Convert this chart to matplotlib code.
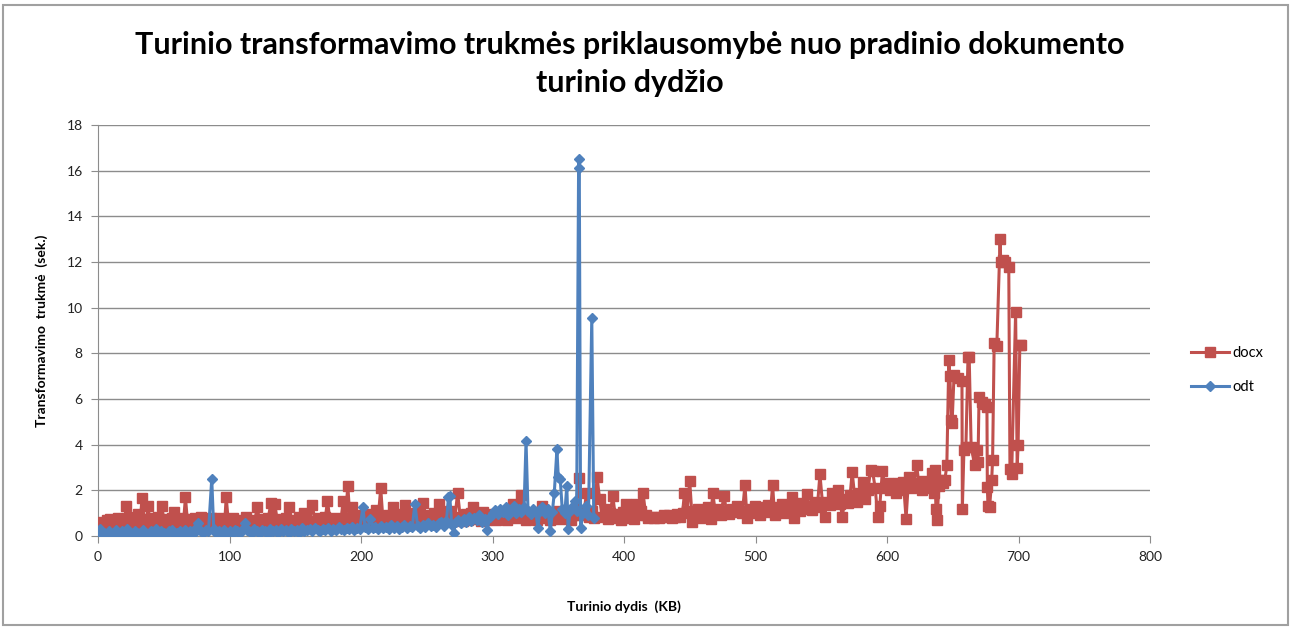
import matplotlib
matplotlib.use('AGG')
import matplotlib.pyplot as plt
from matplotlib.patches import Rectangle

plt.rcParams['font.family'] = ['Lato', 'DejaVu Sans']

# docx series: content size (KB) and transformation time (s)
docx_kb = [
    0.5, 2, 3.5, 5, 6.5, 8, 9.5, 11, 12.5, 14,
    15.5, 17, 18.5, 20, 21.5, 23, 24.5, 26, 27.5, 29,
    30.5, 32, 33.5, 35, 36.5, 38, 39.5, 41, 42.5, 44,
    45.5, 47, 48.5, 50, 51.5, 53, 54.5, 56, 57.5, 59,
    60.5, 62, 63.5, 65, 66.5, 68, 69.5, 71, 72.5, 74,
    75.5, 77, 78.5, 80, 81.5, 83, 84.5, 86, 87.5, 89,
    90.5, 92, 93.5, 95, 96.5, 97.5, 99,
    101, 103, 105.5, 108, 110, 112.5, 115, 117, 119, 121,
    123, 125, 127.5, 129.5, 131.5, 133, 134.5, 136.5, 138.5, 140.5,
    143, 145, 147, 149, 151, 153, 155, 156.5, 158.5, 160.5,
    163, 165, 167, 169, 171, 173, 174.5, 176.5, 178.5, 180.5,
    182.5, 184.5, 186.5, 188, 190, 191.5, 193.5, 195.5, 197.5, 199.5,
    201.5, 203.5, 205.5, 207.5, 209.5, 211.5, 213, 215, 216.5, 218.5,
    220.5, 222.5, 224, 226, 228, 230, 232, 233.5, 235.5, 237.5,
    239.5, 241.5, 243.5, 245.5, 247.5, 249.5, 251.5, 253.5, 255.5, 257.5,
    259.5, 261.5, 263.5, 265.5, 267.5, 269.5, 271.5, 273.5, 275.5, 277.5,
    279.5, 281.5, 283.5, 285, 287, 289, 291, 293, 295, 297, 299,
    301, 303, 305, 307, 309, 311, 313, 315.5, 317.5, 319.5,
    321.5, 323.5, 325.5, 327.5, 329.5, 331.5, 333.5, 335.5, 337.5, 339.5,
    341.5, 343.5, 345.5, 347.5, 349.5, 351.5, 353.5, 355.5, 357.5, 359.5,
    361.5, 363.5, 365.5, 367.5, 369.5, 371.5, 373.5, 375.5, 377.5, 379.5,
    381.5, 383.5, 385.5, 387.5, 389.5, 391.5, 393.5, 395.5, 397.5, 399.5,
    401.5, 403.5, 405.5, 407.5, 409.5, 411.5, 413, 414.5, 416.5, 418.5,
    420.5, 422.5, 424.5, 426.5, 428.5, 430.5, 432.5, 434.5, 436.5, 438.5,
    440.5, 442.5, 444.5, 446, 448, 450, 452, 454, 456, 458,
    460, 462, 464, 466, 467.5, 469.5, 471.5, 473.5, 476, 478,
    480, 482, 484, 486, 488, 490, 492, 493.5, 495.5, 497.5,
    499.5, 501.5, 503.5, 505.5, 507.5, 509.5, 511.5, 513, 514.5, 516.5,
    518.5, 520.5, 522.5, 524.5, 526.5, 528, 529.5, 531.5, 533.5, 535.5,
    537.5, 539, 541, 543, 545, 547, 549, 551, 552.5, 554.5,
    556.5, 558.5, 560.5, 562.5, 564.5, 566, 568, 570, 572, 573.5,
    575.5, 577.5, 579.5, 581.5, 583.5, 585.5, 587.5, 589, 591, 593,
    594.5, 596.5, 598.5, 600.5, 602.5, 604.5, 606.5, 608.5, 610.5, 612.5,
    614.5, 616.5, 618.5, 620.5, 622.5, 624.5, 626.5, 628.5, 630.5, 632.5,
    634, 635.5, 636.5, 637.2, 638, 639.5, 641, 642.5, 644, 645.5,
    647, 647.8, 649, 649.5, 651, 654, 657, 657.3, 658.5, 660,
    661.6, 662.5, 664, 666.7, 668.5, 669.2, 670, 672, 674.6, 676,
    676.3, 676.8, 678, 679.6, 680.3, 681.5, 683.5, 686, 686.5, 688,
    690, 692.6, 693.5, 694.8, 697.8, 699, 699.7, 701, 702,
]
docx_sec = [
    0.05, 0.45, 0.6, 0.5, 0.7, 0.55, 0.75, 0.6, 0.5, 0.65,
    0.8, 0.6, 0.55, 0.7, 1.3, 0.65, 0.6, 0.85, 0.55, 0.7,
    0.95, 0.6, 1.65, 0.75, 0.55, 1.3, 0.65, 0.8, 0.5, 0.7,
    0.85, 0.6, 1.3, 0.7, 0.55, 0.75, 0.6, 0.8, 1.05, 0.65,
    0.5, 0.7, 0.8, 0.6, 1.7, 0.65, 0.55, 0.75, 0.6, 0.8,
    0.55, 0.7, 0.85, 0.6, 0.5, 0.75, 0.65, 0.8, 0.55, 0.7,
    0.6, 0.8, 0.65, 0.55, 0.75, 1.7, 0.7,
    0.6, 0.8, 0.55, 0.7, 0.65, 0.85, 0.55, 0.7, 0.6, 1.25,
    0.65, 0.75, 0.55, 0.8, 1.45, 0.7, 1.4, 0.6, 0.75, 0.55,
    0.8, 1.25, 0.65, 0.7, 0.55, 0.85, 0.6, 1.0, 0.7, 0.55,
    1.35, 0.65, 0.8, 0.6, 0.7, 0.85, 1.55, 0.65, 0.55, 0.8,
    0.7, 0.6, 1.55, 0.75, 2.2, 0.8, 1.25, 0.65, 0.9, 0.7,
    0.85, 0.6, 0.95, 0.7, 0.8, 1.15, 0.75, 2.1, 0.85, 0.6,
    0.9, 0.7, 1.25, 0.8, 0.6, 0.95, 0.75, 1.35, 0.65, 0.9,
    0.7, 1.0, 0.6, 0.85, 1.45, 0.7, 0.9, 0.6, 1.0, 0.75,
    1.4, 0.65, 0.9, 0.7, 1.1, 0.65, 0.85, 1.9, 0.8, 0.65,
    0.95, 0.7, 1.0, 1.27, 0.75, 0.9, 0.65, 1.05, 0.7, 0.85, 0.75,
    0.95, 0.7, 1.0, 0.75, 0.9, 0.7, 1.05, 1.4, 0.8, 0.95,
    1.8, 0.85, 0.7, 1.0, 0.8, 0.95, 0.7, 1.05, 1.3, 0.8,
    0.95, 0.7, 1.0, 0.85, 1.1, 0.75, 0.95, 0.8, 1.05, 0.7,
    0.9, 1.2, 2.55, 0.9, 1.0, 1.9, 0.85, 1.1, 0.8, 2.6,
    1.6, 0.85, 1.2, 0.75, 1.0, 1.75, 0.8, 0.95, 0.7, 1.05,
    1.4, 0.8, 1.0, 0.75, 1.4, 0.9, 1.1, 1.9, 0.9, 0.8,
    0.85, 0.8, 0.85, 0.8, 0.85, 0.9, 0.85, 0.9, 0.8, 0.85,
    0.95, 0.85, 1.0, 1.9, 1.1, 2.4, 0.6, 1.0, 1.2, 0.8,
    1.1, 0.9, 1.25, 0.75, 1.9, 1.0, 1.2, 0.9, 1.75, 1.1,
    0.95, 1.2, 1.05, 1.3, 1.1, 1.0, 2.25, 0.8, 1.2, 1.0,
    1.3, 1.1, 0.9, 1.25, 1.05, 1.35, 1.1, 2.25, 0.9, 1.25,
    1.1, 1.4, 1.0, 1.3, 1.2, 1.7, 0.8, 1.3, 1.1, 1.45,
    1.2, 1.85, 1.3, 1.15, 1.5, 1.25, 2.7, 1.4, 0.85, 1.5,
    1.35, 1.9, 1.6, 2.0, 1.4, 0.85, 1.6, 1.45, 1.8, 2.8,
    1.7, 1.5, 1.9, 2.35, 1.6, 2.0, 2.9, 2.85, 2.1, 0.85,
    1.3, 2.85, 2.1, 2.3, 2.0, 2.2, 1.9, 2.3, 2.0, 2.35,
    0.75, 2.6, 2.1, 2.3, 3.1, 2.2, 2.0, 2.4, 2.1, 2.3,
    2.75, 1.9, 2.9, 1.2, 0.7, 2.2, 2.45, 2.3, 2.45, 3.1,
    7.7, 7.0, 5.1, 4.95, 7.05, 6.9, 6.8, 1.2, 3.75, 3.9,
    7.85, 7.85, 3.9, 3.1, 3.75, 3.25, 6.1, 5.85, 5.8, 5.65,
    2.15, 1.3, 1.25, 2.45, 3.35, 8.45, 8.3, 13.0, 12.0, 12.1,
    12.0, 11.8, 2.95, 2.7, 9.8, 3.0, 4.0, 8.35, 8.35,
]

# odt series
odt_kb = [
    0, 1.5, 3, 4.5, 6, 8, 10, 12, 14, 16,
    18, 20, 22, 24, 26, 28, 30, 32, 34, 36,
    38, 40, 42, 44, 46, 48, 50, 52, 54, 56,
    58, 60, 62, 64, 66, 68, 70, 72, 74, 76,
    78, 80, 82, 84, 86.5, 88, 90, 92, 94, 96,
    98, 100, 102, 104, 106, 108, 110, 111.5, 113, 115,
    117, 119, 121, 123, 125, 127, 129, 131, 133, 135,
    137, 139, 141, 143, 145, 147, 149, 151, 153, 155,
    157, 159, 161, 163, 165, 167, 169, 171, 173, 175,
    177, 179, 181, 183, 185, 187, 189, 191, 193, 195,
    197, 199, 201.5, 203, 205, 207, 209, 211, 213, 215,
    217, 219, 221, 223, 225, 227, 229, 231, 233, 235,
    237, 239, 241, 243, 245, 247, 249, 251, 253, 255,
    257, 259, 261, 263, 265, 266.5, 267.5, 269, 270.5, 272,
    274, 276, 278, 280, 282, 284, 286, 288, 290, 292,
    294, 296, 298, 300, 302, 304, 306, 308, 310, 312,
    314, 316, 318, 320, 322, 324, 325.5, 327, 329, 331,
    333, 334.5, 336, 338, 340, 342, 344, 345.5, 347, 349,
    350, 351.5, 353, 355, 356.5, 357.5, 359, 361, 362.5, 364,
    365.5, 366, 367, 369, 371, 373, 375.5, 377,
]
odt_sec = [
    0.0, 0.3, 0.05, 0.15, 0.1, 0.2, 0.1, 0.15, 0.25, 0.1,
    0.2, 0.1, 0.3, 0.15, 0.1, 0.2, 0.15, 0.1, 0.25, 0.15,
    0.1, 0.2, 0.15, 0.3, 0.1, 0.2, 0.15, 0.1, 0.2, 0.25,
    0.1, 0.15, 0.2, 0.1, 0.25, 0.15, 0.2, 0.1, 0.3, 0.55,
    0.2, 0.15, 0.25, 0.2, 2.5, 0.3, 0.15, 0.2, 0.1, 0.25,
    0.15, 0.2, 0.1, 0.25, 0.2, 0.15, 0.3, 0.55, 0.25, 0.2,
    0.15, 0.3, 0.2, 0.15, 0.25, 0.2, 0.1, 0.3, 0.2, 0.25,
    0.15, 0.3, 0.2, 0.25, 0.15, 0.3, 0.2, 0.25, 0.15, 0.35,
    0.2, 0.25, 0.3, 0.2, 0.35, 0.25, 0.2, 0.3, 0.25, 0.35,
    0.2, 0.3, 0.25, 0.4, 0.3, 0.25, 0.35, 0.3, 0.4, 0.25,
    0.35, 0.3, 1.27, 0.4, 0.3, 0.75, 0.35, 0.4, 0.3, 0.45,
    0.35, 0.4, 0.3, 0.5, 0.35, 0.45, 0.3, 0.4, 0.5, 0.35,
    0.45, 0.4, 1.4, 0.45, 0.35, 0.5, 0.4, 0.55, 0.45, 0.5,
    0.4, 0.55, 0.6, 0.45, 0.65, 1.7, 1.75, 0.5, 0.15, 0.6,
    0.7, 0.55, 0.75, 0.6, 0.85, 0.65, 0.8, 0.7, 0.9, 0.6,
    0.75, 0.27, 0.85, 1.0, 1.15, 0.95, 1.2, 1.05, 1.25, 0.9,
    1.15, 1.3, 1.0, 1.2, 1.05, 1.25, 4.15, 1.1, 0.95, 1.2,
    1.05, 0.35, 1.1, 1.25, 1.0, 1.2, 0.2, 1.05, 1.9, 3.8,
    2.6, 2.5, 1.2, 1.0, 2.2, 0.3, 1.1, 1.3, 1.55, 1.1,
    16.5, 16.1, 0.35, 1.0, 1.3, 0.9, 9.55, 0.8,
]

x_ticks = [0, 100, 200, 300, 400, 500, 600, 700, 800]
y_ticks = [0, 2, 4, 6, 8, 10, 12, 14, 16, 18]

red = '#C0504D'
blue = '#4F81BD'
grid_gray = '#8C8C8C'

fig = plt.figure(figsize=(12.94, 6.30), dpi=100)
fig.patch.set_facecolor('white')
fig.patches.append(Rectangle((0.002, 0.008), 0.993, 0.984, transform=fig.transFigure,
                             fill=False, edgecolor='#A0A0A0', linewidth=1.5))

ax = fig.add_axes([98 / 1294, 1 - 536 / 630, (1150 - 98) / 1294, (536 - 125) / 630])

ax.plot(docx_kb, docx_sec, color=red, linewidth=2.2, marker='s', markersize=6.5,
        markerfacecolor=red, markeredgecolor=red, label='docx', zorder=3)
ax.plot(odt_kb, odt_sec, color=blue, linewidth=2.2, marker='D', markersize=5,
        markerfacecolor=blue, markeredgecolor=blue, label='odt', zorder=4)

ax.set_xlim(0, 800)
ax.set_ylim(0, 18)
ax.set_xticks(x_ticks)
ax.set_yticks(y_ticks)
ax.yaxis.grid(True, color=grid_gray, linewidth=1.0)
ax.set_axisbelow(True)

ax.spines['right'].set_visible(False)
ax.spines['top'].set_visible(False)
ax.spines['left'].set_color(grid_gray)
ax.spines['bottom'].set_color(grid_gray)
ax.tick_params(axis='both', direction='out', length=5, color=grid_gray,
               labelsize=10, labelcolor='#222222', pad=6)

ax.set_xlabel('Turinio dydis  (KB)', fontsize=10, fontweight='bold', labelpad=27)
ax.set_ylabel('Transformavimo  trukmė  (sek.)', fontsize=10, fontweight='bold', labelpad=13)

fig.text(630 / 1294, 1 - 64 / 630,
         'Turinio transformavimo trukmės priklausomybė nuo pradinio dokumento\nturinio dydžio',
         ha='center', va='center', fontsize=22, fontweight='bold', linespacing=1.4)

ax.legend(loc='center left', bbox_to_anchor=(1178 / 1294, 1 - 370 / 630),
          bbox_transform=fig.transFigure, frameon=False, fontsize=10.5,
          handlelength=2.6, labelspacing=1.4, handletextpad=0.2)

plt.savefig('out.png', dpi=100)
